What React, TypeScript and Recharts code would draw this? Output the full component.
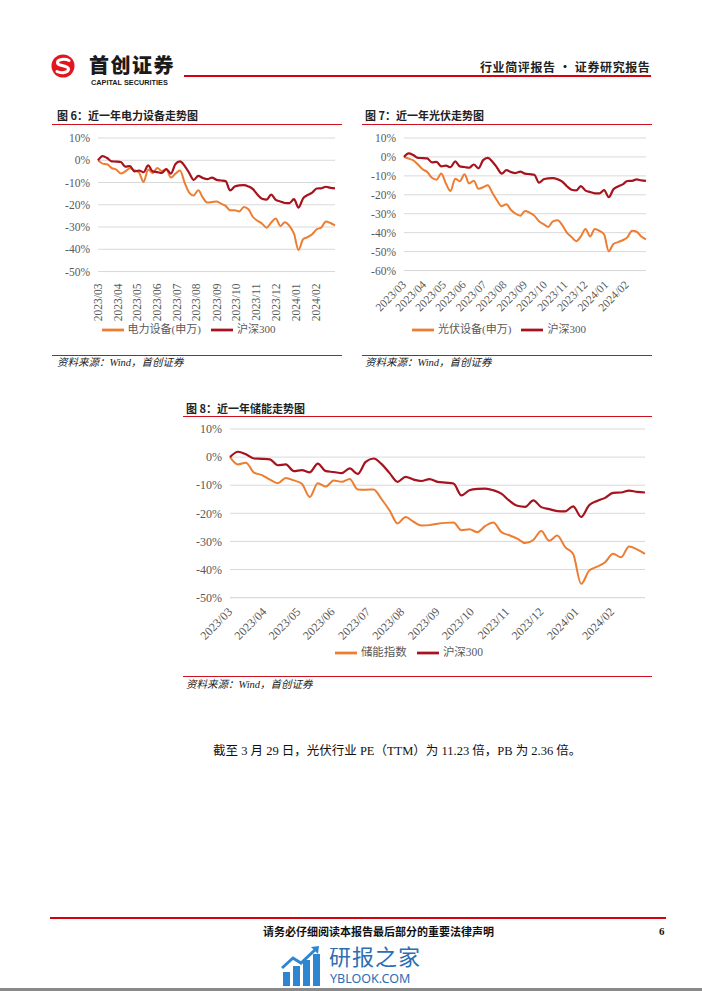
import React from "react";
import { LineChart, Line, XAxis, YAxis, CartesianGrid, Legend } from "recharts";

// 周度数据（每周五收盘，相对 2023/03/31 的累计涨跌幅 %）
const dates = [
  "2023-03-31", "2023-04-07", "2023-04-14", "2023-04-21", "2023-04-28",
  "2023-05-05", "2023-05-12", "2023-05-19", "2023-05-26",
  "2023-06-02", "2023-06-09", "2023-06-16", "2023-06-23", "2023-06-30",
  "2023-07-07", "2023-07-14", "2023-07-21", "2023-07-28",
  "2023-08-04", "2023-08-11", "2023-08-18", "2023-08-25",
  "2023-09-01", "2023-09-08", "2023-09-15", "2023-09-22", "2023-09-29",
  "2023-10-06", "2023-10-13", "2023-10-20", "2023-10-27",
  "2023-11-03", "2023-11-10", "2023-11-17", "2023-11-24",
  "2023-12-01", "2023-12-08", "2023-12-15", "2023-12-22", "2023-12-29",
  "2024-01-05", "2024-01-12", "2024-01-19", "2024-01-26",
  "2024-02-02", "2024-02-09", "2024-02-16", "2024-02-23",
  "2024-03-01", "2024-03-08", "2024-03-15", "2024-03-22", "2024-03-29",
];

const monthTicks = [
  "2023-03-31", "2023-04-30", "2023-05-30", "2023-06-29", "2023-07-30", "2023-08-29",
  "2023-09-29", "2023-10-29", "2023-11-29", "2023-12-29", "2024-01-29", "2024-02-29",
];

const hs300 = [
  0, 1.9, 1.0, -0.5, -0.6, -0.8, -2.9, -2.6, -5.0, -4.6, -5.4, -2.3, -5.0, -5.3,
  -5.7, -4.0, -6.0, -1.7, -0.5, -2.5, -5.7, -8.8, -7.0, -8.0, -8.5, -7.8, -8.8,
  -9.1, -9.4, -13.6, -11.8, -11.3, -11.2, -11.8, -13.0, -15.5, -17.3, -17.7, -15.4,
  -17.8, -18.5, -19.2, -19.3, -17.5, -21.3, -17.1, -15.6, -14.5, -12.7, -12.6, -11.9,
  -12.4, -12.6,
];

const dianli = [
  0, -1.5, -1.8, -3.5, -4.2, -6.0, -5.0, -3.6, -4.5, -5.5, -9.8, -4.2, -5.8, -3.5,
  -4.8, -4.0, -7.8, -6.0, -4.6, -10.0, -14.5, -15.8, -13.5, -16.8, -19.0, -18.8, -18.5,
  -19.5, -20.5, -22.5, -22.5, -23.0, -21.0, -22.0, -25.5, -27.2, -28.5, -30.3, -28.0,
  -26.2, -29.5, -27.8, -29.5, -33.0, -40.3, -35.5, -34.5, -33.2, -31.0, -30.2, -27.5,
  -28.2, -29.3,
];

const guangfu = [
  0, -0.9, -1.8, -4.0, -6.5, -8.0, -11.0, -12.0, -8.8, -14.0, -18.0, -11.5, -12.8, -9.2,
  -14.0, -12.6, -16.8, -16.0, -15.0, -19.0, -23.0, -26.0, -25.0, -28.0, -30.0, -31.0, -28.5,
  -29.5, -31.0, -34.0, -35.5, -37.0, -34.0, -33.5, -36.0, -40.0, -42.3, -44.5, -42.0,
  -38.0, -42.0, -38.0, -39.0, -41.0, -49.8, -46.0, -45.0, -44.0, -42.5, -39.0, -39.5,
  -42.0, -43.5,
];

const chuneng = [
  0, -2.6, -2.0, -5.5, -6.4, -8.0, -9.3, -7.4, -8.3, -9.5, -14.2, -9.3, -10.5, -8.3,
  -8.8, -7.8, -11.5, -11.6, -11.5, -15.0, -19.0, -23.6, -21.3, -23.0, -24.3, -24.2, -23.7,
  -23.4, -23.3, -26.0, -25.7, -26.7, -24.5, -23.3, -26.7, -27.8, -29.0, -30.6, -29.5,
  -26.3, -29.8, -27.9, -32.0, -34.5, -45.1, -40.4, -39.0, -37.4, -34.4, -35.6, -31.8,
  -32.8, -34.4,
];

const ticks6 = [-50, -40, -30, -20, -10, 0, 10];
const ticks7 = [-60, -50, -40, -30, -20, -10, 0, 10];
const ticks8 = [-50, -40, -30, -20, -10, 0, 10];

const ORANGE = "#ED7D31";
const DARKRED = "#A6121D";
const RED = "#D0101E";
const GRID = "#D9D9D9";
const TICK = "#595959";
const SERIF = "'Liberation Serif', 'Times New Roman', 'Noto Sans CJK SC', serif";
const CJK = "'Noto Sans CJK SC', 'Noto Sans', sans-serif";

const rows = dates.map((d, i) => ({
  t: Date.parse(d),
  hs300: hs300[i],
  dianli: dianli[i],
  guangfu: guangfu[i],
  chuneng: chuneng[i],
}));
const tickTs = monthTicks.map((d) => Date.parse(d));

function monthLabel(t: number) {
  const d = new Date(t);
  return `${d.getUTCFullYear()}/${String(d.getUTCMonth() + 1).padStart(2, "0")}`;
}

function DateTick(props: any) {
  const { x, y, payload, angle, size } = props;
  const yy = y + 4;
  return (
    <text
      x={x}
      y={yy}
      transform={`rotate(${angle}, ${x}, ${yy})`}
      textAnchor="end"
      dy="0.35em"
      fontSize={size}
      fill={TICK}
      fontFamily={SERIF}
    >
      {monthLabel(payload.value)}
    </text>
  );
}

const legendText = (v: string) => <span style={{ color: TICK }}>{v}</span>;
// 指数在前，沪深300在后
const legendOrder = (item: any) => (item.dataKey === "hs300" ? 1 : 0);

function TrendChart(props: {
  width: number;
  height: number;
  yWidth: number;
  right: number;
  top: number;
  xHeight: number;
  seriesKey: string;
  seriesName: string;
  domain: number[];
  ticks: number[];
  angle: number;
  fontSize: number;
}) {
  const p = props;
  return (
    <LineChart
      width={p.width}
      height={p.height}
      data={rows}
      margin={{ top: p.top, right: p.right, bottom: 2, left: 0 }}
    >
      <CartesianGrid horizontal vertical={false} stroke={GRID} strokeWidth={1} />
      <XAxis
        dataKey="t"
        type="number"
        domain={["dataMin", "dataMax"]}
        ticks={tickTs}
        interval={0}
        height={p.xHeight}
        tickLine={false}
        axisLine={{ stroke: GRID }}
        tick={(tp: any) => <DateTick {...tp} angle={p.angle} size={p.fontSize} />}
      />
      <YAxis
        width={p.yWidth}
        domain={p.domain}
        ticks={p.ticks}
        interval={0}
        axisLine={false}
        tickLine={false}
        tickFormatter={(v: number) => `${v}%`}
        tick={{ fontSize: p.fontSize, fill: TICK, fontFamily: SERIF }}
      />
      <Legend
        verticalAlign="bottom"
        iconType="plainline"
        iconSize={22}
        itemSorter={legendOrder}
        formatter={legendText}
        wrapperStyle={{ fontSize: p.fontSize - 0.5, fontFamily: SERIF, lineHeight: "20px" }}
      />
      <Line
        type="monotone"
        dataKey={p.seriesKey}
        name={p.seriesName}
        stroke={ORANGE}
        strokeWidth={2}
        dot={false}
        isAnimationActive={false}
      />
      <Line
        type="monotone"
        dataKey="hs300"
        name="沪深300"
        stroke={DARKRED}
        strokeWidth={2.2}
        dot={false}
        isAnimationActive={false}
      />
    </LineChart>
  );
}

function Abs(props: { x: number; y: number; children?: React.ReactNode; style?: React.CSSProperties }) {
  return (
    <div style={{ position: "absolute", left: props.x, top: props.y, whiteSpace: "nowrap", ...props.style }}>
      {props.children}
    </div>
  );
}

function HLine({ x1, x2, y, w = 1, color = RED }: { x1: number; x2: number; y: number; w?: number; color?: string }) {
  return <div style={{ position: "absolute", left: x1, top: y, width: x2 - x1, height: w, background: color }} />;
}

function FigTitle({ x, y, text }: { x: number; y: number; text: string }) {
  return (
    <Abs x={x} y={y} style={{ fontFamily: CJK, fontSize: 11, fontWeight: 700, color: "#222", lineHeight: "14px" }}>
      {text}
    </Abs>
  );
}

function Source({ x, y }: { x: number; y: number }) {
  return (
    <Abs x={x} y={y} style={{ fontFamily: SERIF, fontSize: 10.5, fontStyle: "italic", color: "#222", lineHeight: "14px" }}>
      资料来源：Wind，首创证券
    </Abs>
  );
}

export default function App() {
  return (
    <div style={{ position: "absolute", left: 0, top: 0, width: 702, height: 991, background: "#fff", overflow: "hidden" }}>
      {/* 页眉 */}
      <svg style={{ position: "absolute", left: 51, top: 54 }} width={24} height={24} viewBox="0 0 24 24">
        <circle cx={12} cy={12} r={11.5} fill="#E0171F" />
        <path d="M18 6.5 C14 4.5 6 5 6.5 9 C7 12.5 17.5 11 17.5 15 C17.5 19 10 19.5 6 17.5" stroke="#fff" strokeWidth={3} fill="none" strokeLinecap="round" />
      </svg>
      <Abs x={89} y={55} style={{ fontFamily: CJK, fontSize: 20, fontWeight: 900, color: "#1a1a1a", lineHeight: "20px", letterSpacing: 1.5 }}>
        首创证券
      </Abs>
      <Abs x={91} y={79} style={{ fontFamily: "'Liberation Sans', Arial, sans-serif", fontSize: 7.3, fontWeight: 700, color: "#1a1a1a", lineHeight: "8px" }}>
        CAPITAL SECURITIES
      </Abs>
      <HLine x1={184} x2={651} y={75} w={2} color="#D7000F" />
      <Abs x={480} y={59} style={{ fontFamily: CJK, fontSize: 12, fontWeight: 700, color: "#222", lineHeight: "15px", letterSpacing: 0.6 }}>
        行业简评报告 · 证券研究报告
      </Abs>

      {/* 图 6 */}
      <FigTitle x={57} y={108} text="图 6：近一年电力设备走势图" />
      <HLine x1={52} x2={342} y={124} />
      <div style={{ position: "absolute", left: 52, top: 130 }}>
        <TrendChart
          width={290}
          height={213}
          yWidth={46}
          right={7}
          top={8}
          xHeight={47}
          seriesKey="dianli"
          seriesName="电力设备(申万)"
          domain={[-50, 10]}
          ticks={ticks6}
          angle={-90}
          fontSize={11.5}
        />
      </div>
      <HLine x1={52} x2={342} y={355} />
      <Source x={57} y={356} />

      {/* 图 7 */}
      <FigTitle x={365} y={108} text="图 7：近一年光伏走势图" />
      <HLine x1={362} x2={652} y={124} />
      <div style={{ position: "absolute", left: 362, top: 130 }}>
        <TrendChart
          width={290}
          height={213}
          yWidth={42}
          right={6}
          top={8}
          xHeight={48}
          seriesKey="guangfu"
          seriesName="光伏设备(申万)"
          domain={[-60, 10]}
          ticks={ticks7}
          angle={-45}
          fontSize={11.5}
        />
      </div>
      <HLine x1={362} x2={652} y={355} />
      <Source x={365} y={356} />

      {/* 图 8 */}
      <FigTitle x={186} y={401} text="图 8：近一年储能走势图" />
      <HLine x1={183} x2={652} y={416} />
      <div style={{ position: "absolute", left: 183, top: 420 }}>
        <TrendChart
          width={469}
          height={246}
          yWidth={47}
          right={7}
          top={9}
          xHeight={44}
          seriesKey="chuneng"
          seriesName="储能指数"
          domain={[-50, 10]}
          ticks={ticks8}
          angle={-45}
          fontSize={12}
        />
      </div>
      <HLine x1={183} x2={652} y={676} />
      <Source x={186} y={678} />

      {/* 正文 */}
      <Abs x={213} y={742} style={{ fontFamily: SERIF, fontSize: 12.5, color: "#111", lineHeight: "18px" }}>
        截至 3 月 29 日，光伏行业 PE（TTM）为 11.23 倍，PB 为 2.36 倍。
      </Abs>

      {/* 页脚 */}
      <HLine x1={50} x2={666} y={917} w={2} color="#D7000F" />
      <Abs x={263} y={924} style={{ fontFamily: CJK, fontSize: 11, fontWeight: 700, color: "#111", lineHeight: "14px" }}>
        请务必仔细阅读本报告最后部分的重要法律声明
      </Abs>
      <Abs x={659} y={924} style={{ fontFamily: SERIF, fontSize: 11, fontWeight: 700, color: "#111", lineHeight: "14px" }}>
        6
      </Abs>

      {/* 水印 */}
      <svg style={{ position: "absolute", left: 281, top: 946 }} width={42} height={40} viewBox="0 0 42 40">
        <rect x={2} y={26} width={7} height={14} fill="#2E86D1" />
        <rect x={12} y={20} width={7} height={20} fill="#2E86D1" />
        <rect x={22} y={14} width={7} height={26} fill="#2E86D1" />
        <rect x={32} y={8} width={7} height={32} fill="#2E86D1" />
        <path d="M1 22 L12 12 L20 17 L36 2" stroke="#2E86D1" strokeWidth={3} fill="none" />
        <path d="M30 1 L38 0 L37 8 Z" fill="#2E86D1" />
      </svg>
      <Abs x={329} y={943} style={{ fontFamily: CJK, fontSize: 22, color: "#2A6FB5", lineHeight: "25px", letterSpacing: 1 }}>
        研报之家
      </Abs>
      <Abs x={330} y={972} style={{ fontFamily: "'Noto Sans', sans-serif", fontSize: 12.5, color: "#2A6FB5", lineHeight: "14px" }}>
        YBLOOK.COM
      </Abs>
      <div style={{ position: "absolute", left: 0, top: 988, width: 702, height: 3, background: "#8a8a8a" }} />
    </div>
  );
}
